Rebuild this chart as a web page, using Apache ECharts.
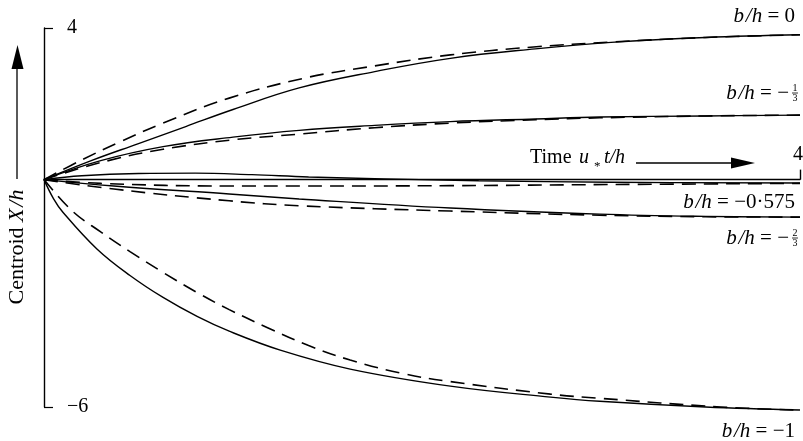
<!DOCTYPE html>
<html>
<head>
<meta charset="utf-8">
<script src="https://cdn.jsdelivr.net/npm/echarts@6/dist/echarts.min.js"></script>
<style>
  html, body { margin: 0; padding: 0; background: #fff; }
  #chart { width: 803px; height: 441px; }
</style>
</head>
<body>
<div id="chart"></div>
<script>
// Centroid drift X/h against time u*t/h for several source heights b/h.
// Solid: computed curves; dashed: approximate curves.
const xTicks = [4];
const yTicks = [-6, 4];

const b0Solid = [[0,0],[0.25,0.5],[0.5,0.95],[0.75,1.4],[1.0,1.85],[1.35,2.42],[1.75,2.85],[2.15,3.2],[2.6,3.45],[3.0,3.62],[3.5,3.75],[4,3.82]];
const b0Dashed = [[0,0],[0.2,0.52],[0.4,0.99],[0.63,1.49],[0.98,2.15],[1.38,2.68],[1.75,3.0],[2.15,3.29],[2.59,3.5],[3.0,3.63],[3.5,3.75],[4,3.82]];

const bThirdSolid = [[0,0],[0.3,0.5],[0.63,0.87],[1.0,1.12],[1.35,1.3],[1.75,1.43],[2.15,1.53],[2.6,1.6],[2.94,1.65],[3.5,1.68],[4,1.7]];
const bThirdDashed = [[0,0],[0.3,0.45],[0.63,0.8],[1.0,1.05],[1.35,1.2],[1.75,1.37],[2.15,1.49],[2.6,1.58],[2.94,1.63],[3.5,1.68],[4,1.7]];

const b0575Solid = [[0,0],[0.2,0.1],[0.5,0.16],[0.8,0.17],[1.1,0.13],[1.4,0.07],[1.8,0.02],[2.3,-0.03],[3.0,-0.07],[4,-0.09]];
const b0575Dashed = [[0,0],[0.3,-0.1],[0.98,-0.17],[1.35,-0.17],[2.15,-0.16],[3.0,-0.13],[4,-0.1]];

const bTwoThirdsSolid = [[0,0],[0.37,-0.17],[0.98,-0.38],[1.35,-0.51],[2.15,-0.75],[2.94,-0.91],[3.5,-0.97],[4,-0.99]];
const bTwoThirdsDashed = [[0,0],[0.37,-0.25],[0.98,-0.56],[1.35,-0.69],[2.15,-0.83],[2.94,-0.94],[3.5,-0.98],[4,-0.99]];

const bOneSolid = [[0,0],[0.05,-0.5],[0.1,-0.86],[0.28,-1.83],[0.455,-2.53],[0.63,-3.11],[0.81,-3.61],[0.98,-4.0],[1.25,-4.5],[1.62,-5.0],[2.15,-5.45],[2.68,-5.74],[2.94,-5.85],[3.5,-6.0],[4,-6.08]];
const bOneDashed = [[0,0],[0.15,-0.83],[0.3,-1.38],[0.455,-1.9],[0.63,-2.45],[0.81,-2.98],[0.98,-3.43],[1.18,-3.9],[1.4,-4.38],[1.62,-4.76],[1.9,-5.12],[2.15,-5.33],[2.68,-5.66],[2.94,-5.77],[3.58,-6.0],[4,-6.08]];

const SERIF = '"Liberation Serif", "DejaVu Serif", serif';
const FS = 20;
const LFS = 21;

function curve(data, dashed) {
  return {
    type: 'line',
    data: data,
    symbol: 'none',
    smooth: 0.4,
    clip: false,
    silent: true,
    lineStyle: {
      color: '#000',
      width: dashed ? 1.6 : 1.4,
      type: dashed ? [14, 8] : 'solid'
    }
  };
}

// right-hand curve labels
function label(x, y, rest) {
  return {
    type: 'text', x: x, y: y,
    style: {
      text: '{i|b\u200a/h} = ' + rest,
      fill: '#000', font: LFS + 'px ' + SERIF,
      align: 'right', verticalAlign: 'middle',
      rich: { i: { fontStyle: 'italic', fontSize: LFS, fontFamily: SERIF } }
    }
  };
}

// stacked fraction like -1/3
function fraction(x, y, num, den) {
  return [
    { type: 'text', x: x, y: y - 5, style: { text: num, fill: '#000', font: '10px ' + SERIF, align: 'center', verticalAlign: 'middle' } },
    { type: 'line', shape: { x1: x - 3, y1: y, x2: x + 3, y2: y }, style: { stroke: '#000', lineWidth: 0.8 } },
    { type: 'text', x: x, y: y + 5.5, style: { text: den, fill: '#000', font: '10px ' + SERIF, align: 'center', verticalAlign: 'middle' } }
  ];
}

const chart = echarts.init(document.getElementById('chart'), null, { renderer: 'canvas' });

chart.setOption({
  animation: false,
  backgroundColor: '#fff',
  grid: { left: 44, right: 3, top: 28, bottom: 34, containLabel: false },
  xAxis: {
    type: 'value', min: 0, max: 4,
    axisLine: { show: true, onZero: true, lineStyle: { color: '#000', width: 1.4 } },
    axisTick: { show: true, inside: true, length: 10, customValues: xTicks, lineStyle: { color: '#000', width: 1.4 } },
    axisLabel: { show: false },
    splitLine: { show: false }
  },
  yAxis: {
    type: 'value', min: -6, max: 4,
    axisLine: { show: true, onZero: false, lineStyle: { color: '#000', width: 1.4 } },
    axisTick: { show: true, inside: true, length: 9, customValues: yTicks, lineStyle: { color: '#000', width: 1.2 } },
    axisLabel: {
      show: true, inside: true, margin: 23, customValues: yTicks,
      color: '#000', fontSize: FS, fontFamily: SERIF,
      formatter: v => (v < 0 ? '\u2212' + Math.abs(v) : String(v))
    },
    splitLine: { show: false }
  },
  series: [
    curve(b0Solid, false), curve(b0Dashed, true),
    curve(bThirdSolid, false), curve(bThirdDashed, true),
    curve(b0575Solid, false), curve(b0575Dashed, true),
    curve(bTwoThirdsSolid, false), curve(bTwoThirdsDashed, true),
    curve(bOneSolid, false), curve(bOneDashed, true)
  ],
  graphic: [
    // vertical axis title with arrow
    { type: 'text', x: 17, y: 247, rotation: Math.PI / 2,
      style: { text: 'Centroid {i|X\u200a/h}', fill: '#000', font: '22px ' + SERIF, align: 'center', verticalAlign: 'middle',
        rich: { i: { fontStyle: 'italic', fontSize: 22, fontFamily: SERIF } } } },
    { type: 'line', shape: { x1: 17, y1: 179, x2: 17, y2: 64 }, style: { stroke: '#000', lineWidth: 1.3 } },
    { type: 'polygon', shape: { points: [[17.5, 45], [11.5, 69], [23.5, 69]] }, style: { fill: '#000' } },
    // horizontal axis end value and title with arrow
    { type: 'text', x: 798, y: 155, style: { text: String(xTicks[0]), fill: '#000', font: FS + 'px ' + SERIF, align: 'center', verticalAlign: 'middle' } },
    { type: 'text', x: 530, y: 158, style: { text: 'Time', fill: '#000', font: FS + 'px ' + SERIF, align: 'left', verticalAlign: 'middle' } },
    { type: 'text', x: 579, y: 158, style: { text: 'u', fill: '#000', font: 'italic ' + FS + 'px ' + SERIF, align: 'left', verticalAlign: 'middle' } },
    { type: 'text', x: 594, y: 167, style: { text: '*', fill: '#000', font: '13px ' + SERIF, align: 'left', verticalAlign: 'middle' } },
    { type: 'text', x: 604, y: 158, style: { text: 't/h', fill: '#000', font: 'italic ' + FS + 'px ' + SERIF, align: 'left', verticalAlign: 'middle' } },
    { type: 'line', shape: { x1: 636, y1: 163, x2: 735, y2: 163 }, style: { stroke: '#000', lineWidth: 1.3 } },
    { type: 'polygon', shape: { points: [[755, 163], [731, 157.5], [731, 168.5]] }, style: { fill: '#000' } },
    // curve labels
    label(795, 16, '0'),
    label(789, 93, '\u2212'),
    ...fraction(795, 93, '1', '3'),
    label(795, 202, '\u22120\u00b7575'),
    label(789, 238, '\u2212'),
    ...fraction(795, 238, '2', '3'),
    label(795, 431, '\u22121')
  ]
});
</script>
</body>
</html>
